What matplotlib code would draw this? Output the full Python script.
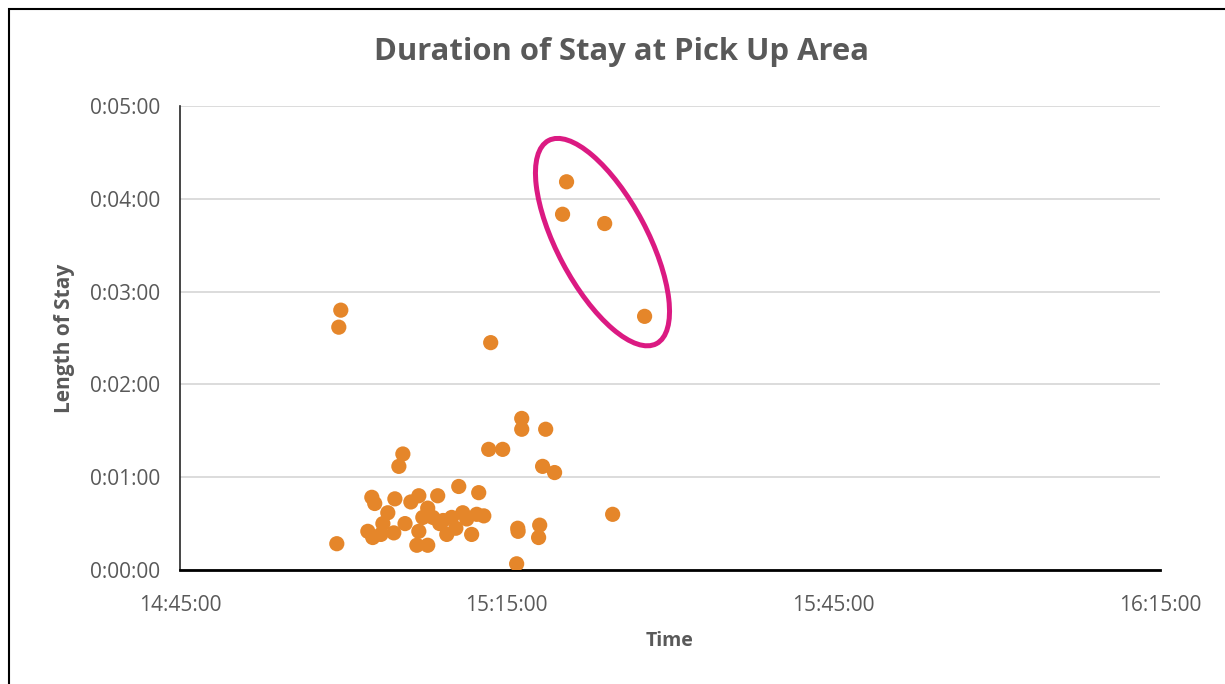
import matplotlib
matplotlib.use("Agg")
import matplotlib.pyplot as plt
from matplotlib.patches import Ellipse, Rectangle
from matplotlib.ticker import FuncFormatter
from matplotlib.transforms import ScaledTranslation

# --------------------------------------------------
# Data
# --------------------------------------------------
arrival_times = [
    "14:59:24", "14:59:46", "14:59:35", "15:02:15", "15:02:37", "15:02:53",
    "15:02:42", "15:03:27", "15:03:38", "15:04:05", "15:04:38", "15:04:44",
    "15:05:06", "15:05:28", "15:06:12", "15:06:56", "15:08:40", "15:07:45",
    "15:07:18", "15:08:13", "15:10:58", "15:09:57", "15:12:15", "15:12:54",
    "15:10:36", "15:12:26", "15:06:56", "15:06:45", "15:07:45", "15:09:30",
    "15:11:47", "15:08:51", "15:10:20", "15:13:21", "15:14:38", "15:13:32",
    "15:16:23", "15:16:23", "15:18:35", "15:18:18", "15:19:24", "15:16:01",
    "15:16:03", "15:18:02", "15:17:56", "15:24:44", "15:15:55", "15:20:30",
    "15:20:08", "15:24:00", "15:27:40", "15:09:10", "15:05:40", "15:11:20",
]
stay_lengths = [
    "0:00:17", "0:02:48", "0:02:37", "0:00:25", "0:00:47", "0:00:43",
    "0:00:21", "0:00:23", "0:00:30", "0:00:37", "0:00:24", "0:00:46",
    "0:01:07", "0:01:15", "0:00:44", "0:00:48", "0:00:48", "0:00:40",
    "0:00:34", "0:00:34", "0:00:37", "0:00:34", "0:00:36", "0:00:35",
    "0:00:54", "0:00:50", "0:00:25", "0:00:16", "0:00:16", "0:00:23",
    "0:00:23", "0:00:30", "0:00:27", "0:01:18", "0:01:18", "0:02:27",
    "0:01:38", "0:01:31", "0:01:31", "0:01:07", "0:01:03", "0:00:27",
    "0:00:25", "0:00:29", "0:00:21", "0:00:36", "0:00:04", "0:04:11",
    "0:03:50", "0:03:44", "0:02:44", "0:00:32", "0:00:30", "0:00:33",
]
x_ticks = ["14:45:00", "15:15:00", "15:45:00", "16:15:00"]
y_ticks = ["0:00:00", "0:01:00", "0:02:00", "0:03:00", "0:04:00", "0:05:00"]

# highlighted cluster (centre of the outline)
ring_centre = ("15:23:48", "0:03:32")


def to_sec(txt):
    h, m, s = (int(v) for v in txt.split(":"))
    return h * 3600 + m * 60 + s


def fmt_hms(val, _pos=None):
    val = int(round(val))
    return f"{val // 3600}:{(val % 3600) // 60:02d}:{val % 60:02d}"


xs = [to_sec(t) for t in arrival_times]
ys = [to_sec(t) for t in stay_lengths]
x_tick_vals = [to_sec(t) for t in x_ticks]
y_tick_vals = [to_sec(t) for t in y_ticks]

GREY = "#595959"
ORANGE = "#E5862A"
MAGENTA = "#DB1A82"
FONT = ["Open Sans", "DejaVu Sans"]

# --------------------------------------------------
# Figure
# --------------------------------------------------
fig = plt.figure(figsize=(12.25, 6.84), dpi=100)
ax = fig.add_axes([180 / 1225, 1 - 570 / 684, 980 / 1225, 464 / 684])

# outer chart frame (only top and left edges fall inside the image)
fig.patches.append(Rectangle((9 / 1225, -0.5), 2, 1 - 9 / 684 + 0.5,
                             transform=fig.transFigure, fill=False,
                             edgecolor="black", linewidth=1.5))

ax.scatter(xs, ys, s=120, color=ORANGE, edgecolors="none", zorder=3)

ax.set_xlim(x_tick_vals[0], x_tick_vals[-1])
ax.set_ylim(y_tick_vals[0], y_tick_vals[-1])
ax.set_xticks(x_tick_vals)
ax.set_yticks(y_tick_vals)
ax.xaxis.set_major_formatter(FuncFormatter(fmt_hms))
ax.yaxis.set_major_formatter(FuncFormatter(fmt_hms))
ax.tick_params(length=0, labelsize=15, labelcolor=GREY)
ax.tick_params(axis="x", pad=18)
ax.tick_params(axis="y", pad=14)
for lbl in ax.get_xticklabels() + ax.get_yticklabels():
    lbl.set_family(FONT)

ax.grid(axis="y", color="#D9D9D9", linewidth=1.3, zorder=0)
ax.set_axisbelow(True)
for side in ["top", "right"]:
    ax.spines[side].set_visible(False)
ax.spines["left"].set_color("#262626")
ax.spines["left"].set_linewidth(1.2)
ax.spines["bottom"].set_color("black")
ax.spines["bottom"].set_linewidth(2)

# chart title is centred on the whole chart area, not the plot area
fig.text(621 / 1225, 1 - 52 / 684, "Duration of Stay at Pick Up Area", fontsize=22.3,
         fontweight="bold", color=GREY, family=FONT, ha="center", va="center")
ax.set_xlabel("Time", fontsize=14, fontweight="bold", color=GREY, family=FONT, labelpad=11)
ax.set_ylabel("Length of Stay", fontsize=15, fontweight="bold", color=GREY, family=FONT,
              labelpad=11)

# magenta ring round the long stays (size given in inches, placed at data centre)
ring = Ellipse((0, 0), width=2.3, height=0.9, angle=-62, fill=False,
               edgecolor=MAGENTA, linewidth=3.6,
               transform=fig.dpi_scale_trans + ScaledTranslation(
                   to_sec(ring_centre[0]), to_sec(ring_centre[1]), ax.transData),
               zorder=4)
ax.add_patch(ring)

fig.savefig("out.png", dpi=100)
